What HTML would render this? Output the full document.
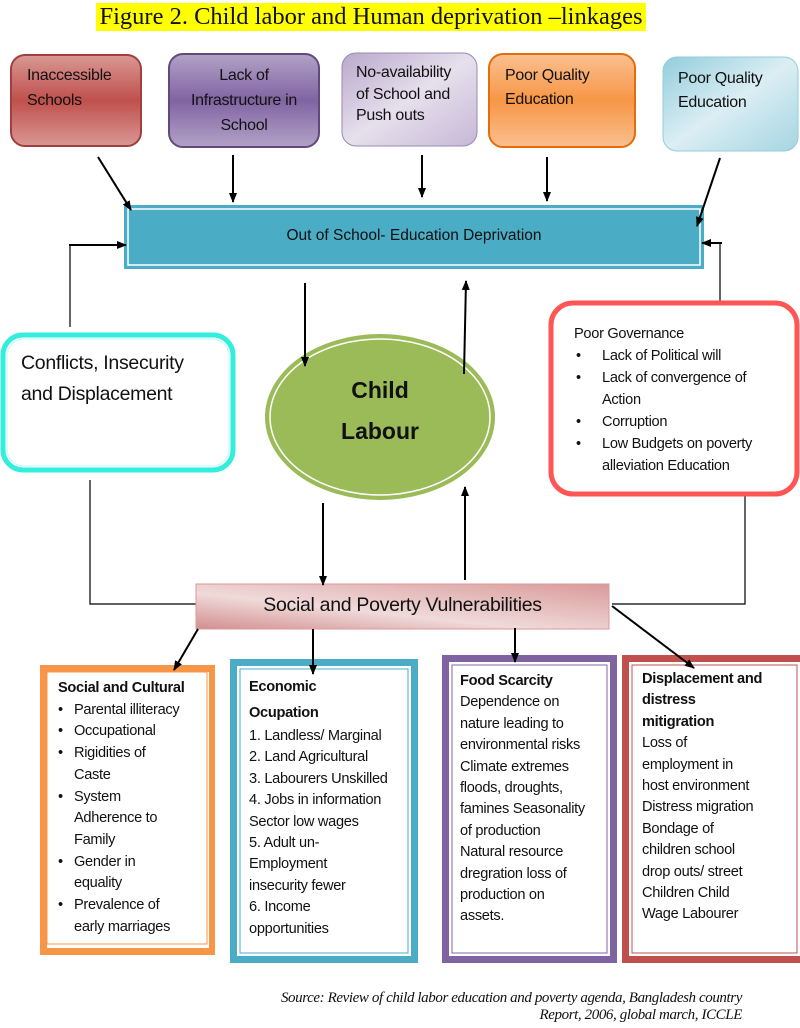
<!DOCTYPE html>
<html><head><meta charset="utf-8"><style>
body{margin:0;width:800px;height:1028px;background:#fff;position:relative;overflow:hidden;font-family:"Liberation Sans",sans-serif;color:#111}
.a{position:absolute;white-space:nowrap}
.t{font-size:15px;line-height:21.5px;letter-spacing:-0.2px}
.b{position:relative;padding-left:16px}
.b:before{content:"•";position:absolute;left:0}
.s{font-size:14.6px;letter-spacing:-0.3px}
</style></head><body>
<svg class="a" style="left:0;top:0" width="800" height="1028">
<defs>
<linearGradient id="gr" x1="0" y1="0" x2="0" y2="1"><stop offset="0" stop-color="#d99894"/><stop offset="0.5" stop-color="#c0504d"/><stop offset="1" stop-color="#d99894"/></linearGradient>
<linearGradient id="gp" x1="0" y1="0" x2="0" y2="1"><stop offset="0" stop-color="#b3a2c7"/><stop offset="0.5" stop-color="#8064a2"/><stop offset="1" stop-color="#b3a2c7"/></linearGradient>
<linearGradient id="gl" x1="0" y1="0" x2="1" y2="1"><stop offset="0" stop-color="#b9a8cc"/><stop offset="0.5" stop-color="#e6e0ec"/><stop offset="1" stop-color="#c6b8d6"/></linearGradient>
<linearGradient id="go" x1="0" y1="0" x2="0" y2="1"><stop offset="0" stop-color="#fac090"/><stop offset="0.5" stop-color="#f79646"/><stop offset="1" stop-color="#fac090"/></linearGradient>
<linearGradient id="gb" x1="0" y1="0" x2="1" y2="1"><stop offset="0" stop-color="#93cddd"/><stop offset="0.5" stop-color="#dbeef3"/><stop offset="1" stop-color="#a5d5e2"/></linearGradient>
<linearGradient id="gs" x1="0" y1="1" x2="1" y2="0"><stop offset="0" stop-color="#d28e8e"/><stop offset="0.4" stop-color="#f0dada"/><stop offset="1" stop-color="#d99a9a"/></linearGradient>
</defs>
<rect x="96" y="3" width="550" height="28" fill="#ffff00"/>
<rect x="11" y="55" width="130" height="91" rx="14" fill="url(#gr)" stroke="#a0403e" stroke-width="2"/>
<rect x="169" y="54" width="150" height="93" rx="14" fill="url(#gp)" stroke="#604a7b" stroke-width="2"/>
<rect x="342" y="53" width="135" height="93" rx="14" fill="url(#gl)" stroke="#9a8ab0" stroke-width="1"/>
<rect x="489" y="54" width="146" height="93" rx="14" fill="url(#go)" stroke="#e46c0a" stroke-width="2"/>
<rect x="663" y="57" width="135" height="94" rx="14" fill="url(#gb)" stroke="#93cddd" stroke-width="1"/>
<rect x="124" y="205" width="580" height="64" fill="#4bacc6"/>
<rect x="128" y="209" width="572" height="56" fill="none" stroke="#fff" stroke-width="1.5"/>
<g stroke="#000" stroke-width="1.2" fill="none">
<polyline points="70,327 70,245 118,245"/>
<polyline points="90,480 90,604 196,604"/>
<polyline points="720,305 720,243 710,243"/>
<polyline points="745,495 745,604 612,604"/>
</g>
<rect x="3" y="335" width="230" height="135" rx="20" fill="#fff" stroke="#33eedd" stroke-width="5"/>
<rect x="7" y="339" width="222" height="127" rx="17" fill="none" stroke="#bff" stroke-width="1"/>
<rect x="551" y="303" width="246" height="191" rx="22" fill="#fff" stroke="#ff5555" stroke-width="5"/>
<ellipse cx="380" cy="417" rx="115" ry="83" fill="#9bbb59"/>
<ellipse cx="380" cy="417" rx="110" ry="78" fill="none" stroke="#fff" stroke-width="1.5"/>
<rect x="196" y="584" width="413" height="45" fill="url(#gs)" stroke="#d99" stroke-width="1"/>
<rect x="40" y="665" width="175" height="290" fill="#f79646"/>
<rect x="47" y="672" width="162" height="276" fill="#fff"/>
<rect x="47" y="672" width="160" height="272" fill="none" stroke="#f79646" stroke-width="1"/>
<rect x="230" y="659" width="188" height="304" fill="#4bacc6"/>
<rect x="237" y="666" width="174" height="290" fill="#fff"/>
<rect x="240" y="669" width="168" height="284" fill="none" stroke="#4bacc6" stroke-width="1"/>
<rect x="442" y="655" width="175" height="308" fill="#8064a2"/>
<rect x="449" y="662" width="161" height="294" fill="#fff"/>
<rect x="452" y="665" width="155" height="288" fill="none" stroke="#8064a2" stroke-width="1"/>
<rect x="622" y="655" width="178" height="308" fill="#c0504d"/>
<rect x="629" y="662" width="171" height="294" fill="#fff"/>
<rect x="632" y="665" width="165" height="288" fill="none" stroke="#c0504d" stroke-width="1"/>
</svg>

<div class="a" style="left:96px;top:3px;width:550px;text-align:center;font-family:'Liberation Serif',serif;font-size:24.5px;line-height:28px">Figure 2. Child labor and Human deprivation –linkages</div>

<div class="a" style="left:27px;top:63px;font-size:16px;line-height:25px;letter-spacing:-0.3px">Inaccessible<br>Schools</div>
<div class="a" style="left:169px;top:63px;width:150px;text-align:center;font-size:16px;line-height:25px;letter-spacing:-0.3px">Lack of<br>Infrastructure in<br>School</div>
<div class="a" style="left:356px;top:62px;font-size:16px;line-height:21.5px;letter-spacing:-0.3px">No-availability<br>of School and<br>Push outs</div>
<div class="a" style="left:505px;top:64px;font-size:16px;line-height:24px;letter-spacing:-0.3px">Poor Quality<br>Education</div>
<div class="a" style="left:678px;top:67px;font-size:16px;line-height:24px;letter-spacing:-0.3px">Poor Quality<br>Education</div>
<div class="a" style="left:124px;top:225px;width:580px;text-align:center;font-size:15.5px;line-height:22px">Out of School- Education Deprivation</div>

<div class="a" style="left:21px;top:348px;font-size:19.5px;line-height:31px;letter-spacing:-0.3px">Conflicts, Insecurity<br>and Displacement</div>
<div class="a" style="left:265px;top:370px;width:230px;text-align:center;font-size:23px;font-weight:bold;line-height:41px">Child<br>Labour</div>

<div class="a t s" style="left:574px;top:323px;line-height:22px">Poor Governance
<div style="padding-left:2px"><div class="b" style="padding-left:26px">Lack of Political will</div><div class="b" style="padding-left:26px">Lack of convergence of<br>Action</div><div class="b" style="padding-left:26px">Corruption</div><div class="b" style="padding-left:26px">Low Budgets on poverty<br>alleviation Education</div></div></div>

<div class="a" style="left:196px;top:592px;width:413px;text-align:center;font-size:19.5px;line-height:26px;letter-spacing:-0.3px">Social and Poverty Vulnerabilities</div>

<div class="a t s" style="left:58px;top:678px;line-height:21.7px"><b>Social and Cultural</b>
<div class="b">Parental illiteracy</div><div class="b">Occupational</div><div class="b">Rigidities of<br>Caste</div><div class="b">System<br>Adherence to<br>Family</div><div class="b">Gender in<br>equality</div><div class="b">Prevalence of<br>early marriages</div></div>

<div class="a t s" style="left:249px;top:674px;line-height:21.4px"><b style="line-height:26px">Economic<br>Ocupation</b><br>1. Landless/ Marginal<br>2. Land Agricultural<br>3. Labourers Unskilled<br>4. Jobs in information<br>Sector low wages<br>5. Adult un-<br>Employment<br>insecurity fewer<br>6. Income<br>opportunities</div>

<div class="a t s" style="left:460px;top:671px;line-height:21.4px"><b>Food Scarcity</b><br>Dependence on<br>nature leading to<br>environmental risks<br>Climate extremes<br>floods, droughts,<br>famines Seasonality<br>of production<br>Natural resource<br>dregration loss of<br>production on<br>assets.</div>

<div class="a t s" style="left:642px;top:669px;line-height:21.4px"><b>Displacement and<br>distress<br>mitigration</b><br>Loss of<br>employment in<br>host environment<br>Distress migration<br>Bondage of<br>children school<br>drop outs/ street<br>Children Child<br>Wage Labourer</div>

<div class="a" style="left:150px;top:990px;width:592px;text-align:right;font-family:'Liberation Serif',serif;font-style:italic;font-size:15px;line-height:17px;letter-spacing:-0.4px">Source: Review of child labor education and poverty agenda, Bangladesh country<br>Report, 2006, global march, ICCLE</div>

<svg class="a" style="left:0;top:0" width="800" height="1028">
<defs>
<marker id="ar" markerWidth="10" markerHeight="10" refX="9" refY="5" orient="auto" markerUnits="userSpaceOnUse"><path d="M0,1 L10,5 L0,9 z" fill="#000"/></marker>
</defs>
<g stroke="#000" stroke-width="2" fill="none">
<line x1="98" y1="157" x2="131" y2="210" marker-end="url(#ar)"/>
<line x1="233" y1="155" x2="233" y2="202" marker-end="url(#ar)"/>
<line x1="422" y1="155" x2="422" y2="197" marker-end="url(#ar)"/>
<line x1="547" y1="157" x2="547" y2="201" marker-end="url(#ar)"/>
<line x1="720" y1="158" x2="697" y2="226" marker-end="url(#ar)"/>
<line x1="69" y1="245" x2="126" y2="245" marker-end="url(#ar)"/>
<line x1="722" y1="243" x2="702" y2="243" marker-end="url(#ar)"/>
<line x1="305" y1="283" x2="305" y2="366" marker-end="url(#ar)"/>
<line x1="464" y1="374" x2="466" y2="281" marker-end="url(#ar)"/>
<line x1="323" y1="503" x2="323" y2="585" marker-end="url(#ar)"/>
<line x1="465" y1="580" x2="465" y2="487" marker-end="url(#ar)"/>
<line x1="198" y1="629" x2="174" y2="670" marker-end="url(#ar)"/>
<line x1="313" y1="629" x2="313" y2="674" marker-end="url(#ar)"/>
<line x1="515" y1="628" x2="515" y2="662" marker-end="url(#ar)"/>
<line x1="612" y1="606" x2="694" y2="668" marker-end="url(#ar)"/>
</g>
</svg>
</body></html>
